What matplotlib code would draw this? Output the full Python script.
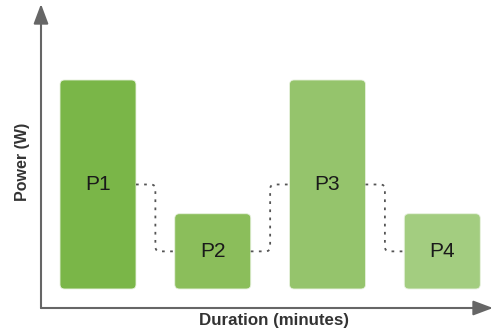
import matplotlib
matplotlib.use("Agg")
import matplotlib.pyplot as plt
from matplotlib.patches import FancyBboxPatch, PathPatch
from matplotlib.path import Path

# phases of the load profile
phases = ["P1", "P2", "P3", "P4"]
durations = [10, 10, 10, 10]      # minutes
power = [100, 36, 100, 36]        # W
colors = ["#7ab648", "#8bbe5b", "#95c46c", "#a3cd80"]

gap = 5.1        # idle time between phases (minutes)
t0 = 2.5         # start of first phase
base = 9.1       # bars float a bit above the time axis

# pixel scale of the schematic
px_x = 7.6       # px per minute
px_y = 2.09      # px per W
W, H = 494, 334
ox, oy = 41, 308  # axis origin in pixels

fig = plt.figure(figsize=(W / 100, H / 100), dpi=100)
ax = fig.add_axes([0, 0, 1, 1])
ax.set_xlim(-ox / px_x, (W - ox) / px_x)
ax.set_ylim(-(H - oy) / px_y, oy / px_y)
ax.axis("off")

aspect = px_x / px_y

# bars
starts = []
t = t0
for name, d, p, c in zip(phases, durations, power, colors):
    starts.append(t)
    box = FancyBboxPatch((t, base), d, p,
                         boxstyle="round,pad=0,rounding_size=0.6",
                         mutation_aspect=aspect,
                         facecolor=c, edgecolor="#e8f2df", linewidth=0.6)
    ax.add_patch(box)
    ax.text(t + d / 2, base + p / 2, name, ha="center", va="center",
            fontsize=15, color="#1a1a1a", family="Liberation Sans")
    t += d + gap

# dotted connectors between phase centres
rx, ry = 0.6, 0.6 * aspect
for i in range(len(phases) - 1):
    x1 = starts[i] + durations[i]
    x2 = starts[i + 1]
    xm = (x1 + x2) / 2
    y1 = base + power[i] / 2
    y2 = base + power[i + 1] / 2
    s = 1 if y2 > y1 else -1
    verts = [(x1, y1), (xm - rx, y1), (xm, y1), (xm, y1 + s * ry),
             (xm, y2 - s * ry), (xm, y2), (xm + rx, y2), (x2, y2)]
    codes = [Path.MOVETO, Path.LINETO, Path.CURVE3, Path.CURVE3,
             Path.LINETO, Path.CURVE3, Path.CURVE3, Path.LINETO]
    ax.add_patch(PathPatch(Path(verts, codes), facecolor="none",
                           edgecolor="#555555", linewidth=1.3,
                           linestyle=(0, (1.5, 3))))

# axes with arrowheads
xmax = (W - 1 - ox) / px_x
ymax = (oy - 4) / px_y
arrow = dict(arrowstyle="-|>,head_length=1.2,head_width=0.45",
             color="#666666", linewidth=1.5, shrinkA=0, shrinkB=0)
ax.annotate("", xy=(xmax, 0), xytext=(0, 0), arrowprops=arrow)
ax.annotate("", xy=(0, ymax), xytext=(0, 0), arrowprops=arrow)

# axis titles
ax.text((274 - ox) / px_x, -(321 - oy) / px_y, "Duration (minutes)",
        ha="center", va="center", fontsize=12.2, fontweight="bold",
        color="#333333", family="Liberation Sans")
ax.text(-(ox - 22) / px_x, (oy - 162) / px_y, "Power (W)",
        ha="center", va="center", rotation=90, fontsize=11.5,
        fontweight="bold", color="#333333", family="Liberation Sans")

fig.savefig("out.png", dpi=100)
